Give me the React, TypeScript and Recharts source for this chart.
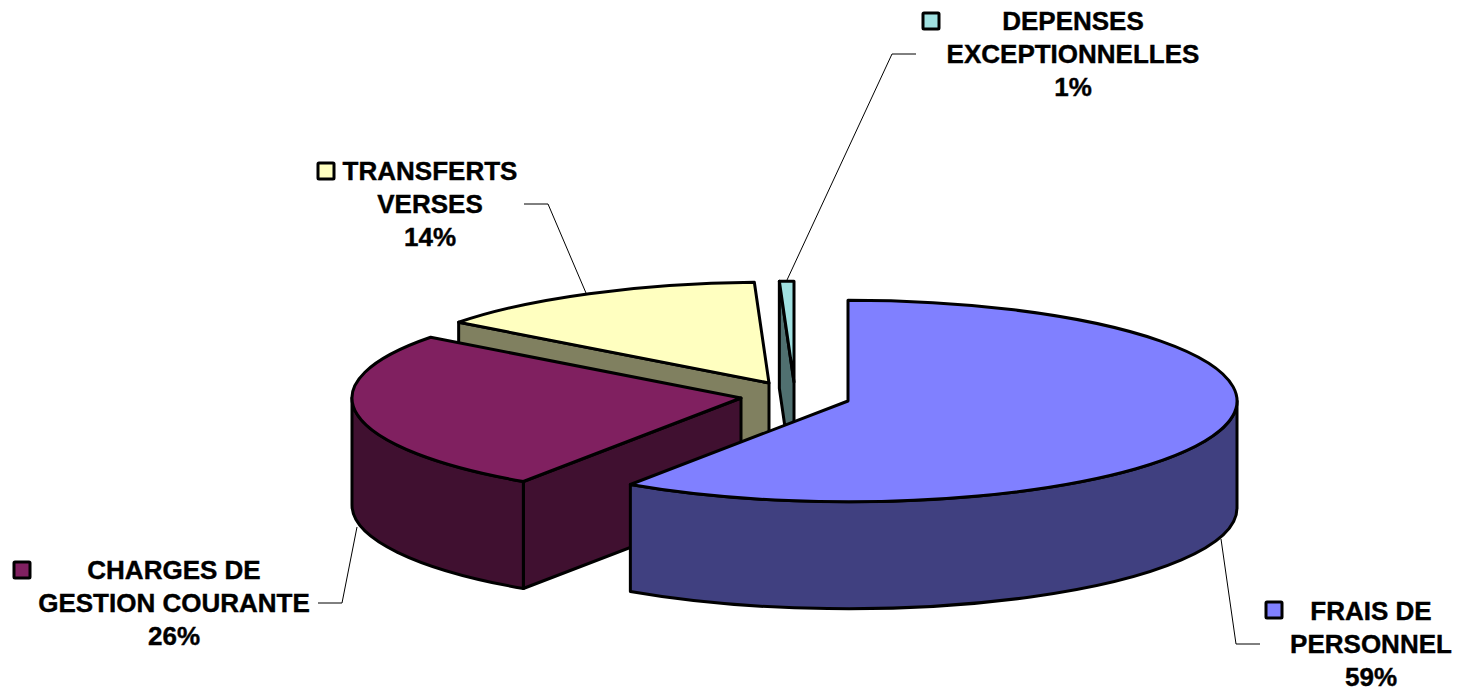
import React from "react";
import { PieChart, Pie } from "recharts";

// drawn back to front, counter-clockwise from 12 o'clock
const categories = ["DEPENSES EXCEPTIONNELLES", "TRANSFERTS VERSES", "CHARGES DE GESTION COURANTE", "FRAIS DE PERSONNEL"];
const shares = [0.6, 14.1, 25.85, 59.45];
const labelLines = [
  ["DEPENSES", "EXCEPTIONNELLES"],
  ["TRANSFERTS", "VERSES"],
  ["CHARGES DE", "GESTION COURANTE"],
  ["FRAIS DE", "PERSONNEL"],
];

const topColors = ["#A0E0E0", "#FFFFC0", "#802060", "#8080FF"];
const sideColors = ["#507070", "#808060", "#401030", "#404080"];

// how far each slice is pulled out of the pie
const explodeX = [-54, -79, -107, 0];
const explodeY = [-19, -18, -3, 0];

const labelCenterX = [1073, 430, 174, 1371];
const labelTopBaseline = [30, 180, 579, 620];
const keyBoxes = [
  [923, 13],
  [318, 163],
  [14, 562],
  [1266, 602],
];
const leaderLines = [
  "787,280 892,54 916,54",
  "524,204 548,204 586,293",
  "318,603 342,603 357,527",
  "1221,539 1236,644 1260,644",
];

const data = categories.map((name, i) => ({ name, value: shares[i] }));

const TILT = 0.259;
const DEPTH = 107;
const RAD = Math.PI / 180;

function Slice3D(props: any) {
  const { cx, cy, outerRadius: r, startAngle, endAngle, name } = props;
  const i = categories.indexOf(name);
  const ox = cx + explodeX[i];
  const oy = cy + explodeY[i];
  const ry = r * TILT;
  const px = (a: number) => ox + r * Math.cos(a * RAD);
  const py = (a: number) => oy - ry * Math.sin(a * RAD);
  const large = endAngle - startAngle > 180 ? 1 : 0;
  const line = { stroke: "#000", strokeWidth: 3, strokeLinejoin: "round" as const };

  const cutFace = (a: number) =>
    `M${ox},${oy} L${px(a)},${py(a)} L${px(a)},${py(a) + DEPTH} L${ox},${oy + DEPTH} Z`;

  // only the lower half of the rim faces the viewer
  const rimFrom = Math.max(startAngle, 180);
  const rimTo = Math.min(endAngle, 360);
  const rim =
    rimTo > rimFrom
      ? `M${px(rimFrom)},${py(rimFrom)} A${r},${ry} 0 0 0 ${px(rimTo)},${py(rimTo)} ` +
        `L${px(rimTo)},${py(rimTo) + DEPTH} A${r},${ry} 0 0 1 ${px(rimFrom)},${py(rimFrom) + DEPTH} Z`
      : null;

  return (
    <g>
      {Math.cos(endAngle * RAD) < -0.0001 && <path d={cutFace(endAngle)} fill={sideColors[i]} {...line} />}
      {Math.cos(startAngle * RAD) > 0.0001 && <path d={cutFace(startAngle)} fill={sideColors[i]} {...line} />}
      {rim && <path d={rim} fill={sideColors[i]} {...line} />}
      <path
        d={`M${ox},${oy} L${px(startAngle)},${py(startAngle)} A${r},${ry} 0 ${large} 0 ${px(endAngle)},${py(endAngle)} Z`}
        fill={topColors[i]}
        {...line}
      />
    </g>
  );
}

function SliceLabel(props: any) {
  const { index, percent } = props;
  const [boxX, boxY] = keyBoxes[index];
  const rows = [...labelLines[index], `${Math.round(percent * 100)}%`];
  return (
    <g>
      <polyline points={leaderLines[index]} fill="none" stroke="#000" strokeWidth={1} />
      <rect x={boxX} y={boxY} width={16} height={16} rx={1} fill={topColors[index]} stroke="#000" strokeWidth={3} />
      {rows.map((row, r) => (
        <text
          key={row}
          x={labelCenterX[index]}
          y={labelTopBaseline[index] + r * 33}
          textAnchor="middle"
          fontFamily="'Liberation Sans', Arial, sans-serif"
          fontWeight="bold"
          fontSize={26}
          fill="#000"
          stroke="#000"
          strokeWidth={0.4}
        >
          {row}
        </text>
      ))}
    </g>
  );
}

export default function App() {
  return (
    <div style={{ position: "absolute", left: 0, top: 0, background: "#fff" }}>
      <PieChart width={1458} height={691} margin={{ top: 0, right: 0, bottom: 0, left: 0 }}>
        <Pie
          data={data}
          dataKey="value"
          nameKey="name"
          cx={848}
          cy={401}
          innerRadius={0}
          outerRadius={389}
          startAngle={90}
          endAngle={450}
          isAnimationActive={false}
          shape={(p: any) => <Slice3D {...p} />}
          label={(p: any) => <SliceLabel {...p} />}
          labelLine={false}
        />
      </PieChart>
    </div>
  );
}
